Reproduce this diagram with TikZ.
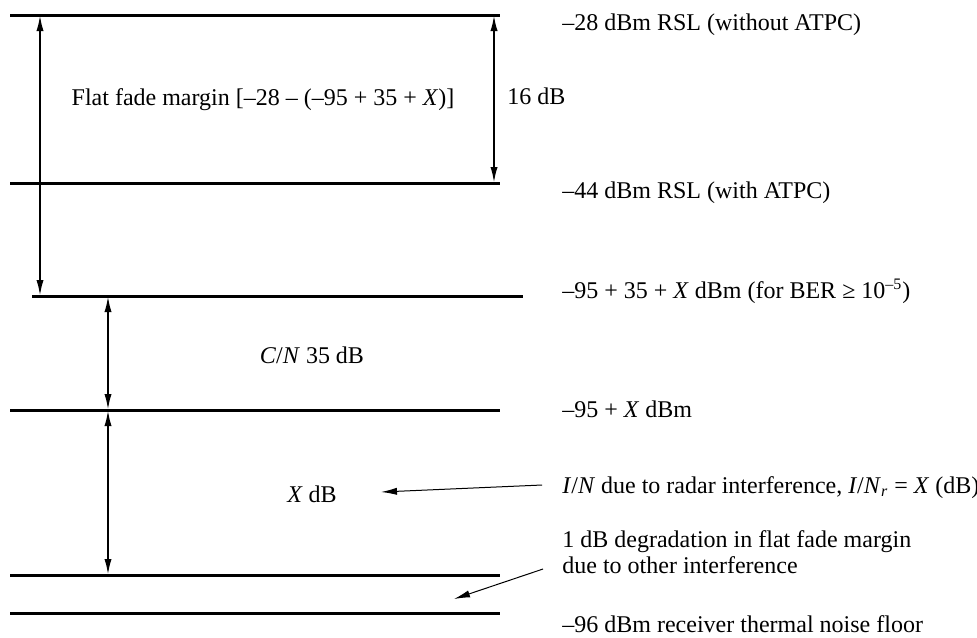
\documentclass[tikz,border=0pt]{standalone}
\usepackage{fontspec}
\setmainfont{Liberation Serif}
\usetikzlibrary{arrows.meta}
\begin{document}
\begin{tikzpicture}[x=0.5pt,y=-0.5pt,
  >={Latex[length=8pt,width=3.6pt]},
  lvl/.style={line width=1.5pt},
  dimarrow/.style={line width=1pt,<->},
  ptr/.style={line width=0.5pt,->},
  rt/.style={inner sep=0pt,anchor=base west,font=\fontsize{12}{13}\selectfont},
  ct/.style={inner sep=0pt,anchor=base,font=\fontsize{12}{13}\selectfont}]
\useasboundingbox (0,0) rectangle (977,637);
% level lines
\coordinate (l1w) at (10,15);  \coordinate (l1e) at (500,15);
\coordinate (l2w) at (10,183); \coordinate (l2e) at (500,183);
\coordinate (l3w) at (32,296); \coordinate (l3e) at (523,296);
\coordinate (l4w) at (10,410); \coordinate (l4e) at (500,410);
\coordinate (l5w) at (10,575); \coordinate (l5e) at (500,575);
\coordinate (l6w) at (10,613); \coordinate (l6e) at (500,613);
\foreach \i in {1,...,6} \draw[lvl] (l\i w) -- (l\i e);
% dimension arrows
\coordinate (fa) at (40,15);  \coordinate (fb) at (40,296);
\coordinate (ra) at (494,15); \coordinate (rb) at (494,183);
\coordinate (ca) at (108,296); \coordinate (cb) at (108,410);
\coordinate (xa) at (108,410); \coordinate (xb) at (108,575);
\draw[dimarrow] (fa) -- (fb);
\draw[dimarrow] (ra) -- (rb);
\draw[dimarrow] (ca) -- (cb);
\draw[dimarrow] (xa) -- (xb);
% labels
\node[ct] (tff) at (263,105) {Flat fade margin [–28 – (–95 + 35 + \textit{X})]};
\node[rt] (t16) at (507,104) {16 dB};
\node[ct] (tcn) at (312,363) {\textit{C}/\textit{N} 35 dB};
\node[ct] (txdb) at (312,502) {\textit{X} dB};
\node[rt] (t28) at (562,30) {–28 dBm RSL (without ATPC)};
\node[rt] (t44) at (562,198) {–44 dBm RSL (with ATPC)};
\node[rt] (t95a) at (562,298) {–95 + 35 + \textit{X} dBm (for BER ≥ 10\textsuperscript{–5})};
\node[rt] (t95b) at (562,417) {–95 + \textit{X} dBm};
\node[rt] (tin) at (562,493) {\textit{I}/\textit{N} due to radar interference, \textit{I}/\textit{N}\textsubscript{\textit{r}} = \textit{X} (dB)};
\node[rt] (tdeg1) at (562,547) {1 dB degradation in flat fade margin};
\node[rt] (tdeg2) at (562,573) {due to other interference};
\node[rt] (t96) at (562,632) {–96 dBm receiver thermal noise floor};
% pointers
\coordinate (p1s) at (542,485); \coordinate (p1e) at (381,492);
\coordinate (p2s) at (543,569); \coordinate (p2e) at (454,599);
\draw[ptr] (p1s) -- (p1e);
\draw[ptr] (p2s) -- (p2e);
\end{tikzpicture}
\end{document}
